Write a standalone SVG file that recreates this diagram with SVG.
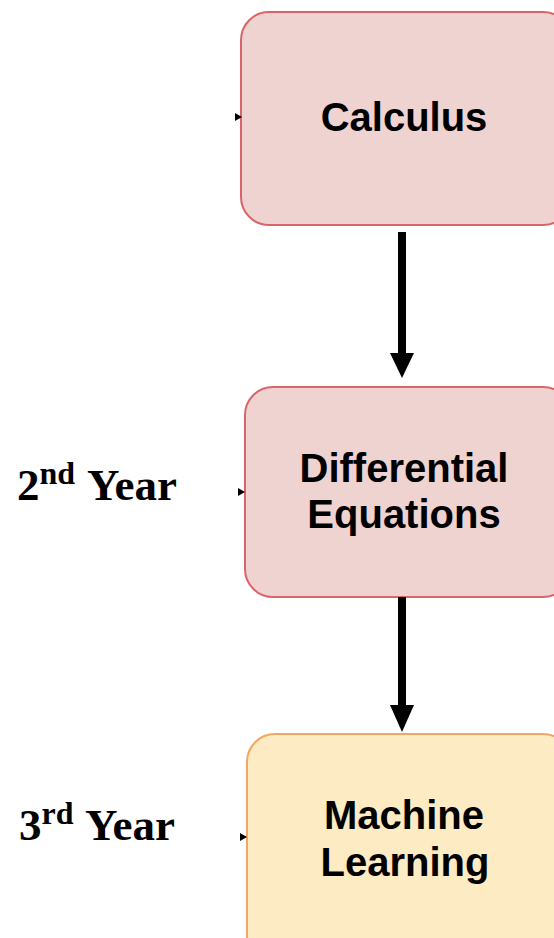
<svg xmlns="http://www.w3.org/2000/svg" width="554" height="938" viewBox="0 0 554 938">
<style>
.red{fill:#efd3d0;stroke:#d9656a;stroke-width:2}
.yel{fill:#fdebc4;stroke:#f2a664;stroke-width:2}
.lbl{font-family:"Liberation Sans",Arial,sans-serif;font-weight:bold;font-size:40px;fill:#000;text-anchor:middle}
.yr{font-family:"Liberation Serif","Times New Roman",serif;font-weight:bold;font-size:45px;fill:#000}
.sup{font-size:32px}
.shaft{stroke:#000;stroke-width:8;fill:none}
</style>
<rect width="554" height="938" fill="#fff"/>
<g id="calculus">
<rect class="red" x="241" y="12" width="330" height="213" rx="28"/>
<text class="lbl" x="404" y="131">Calculus</text>
</g>
<g id="diffeq">
<rect class="red" x="245" y="387" width="326" height="210" rx="28"/>
<text class="lbl" x="404" y="482">Differential</text>
<text class="lbl" x="404" y="528">Equations</text>
</g>
<g id="ml">
<rect class="yel" x="247" y="734" width="324" height="230" rx="28"/>
<text class="lbl" x="404" y="829">Machine</text>
<text class="lbl" x="405" y="876">Learning</text>
</g>
<g id="year2">
<text class="yr" x="17" y="500">2<tspan class="sup" dy="-16">nd</tspan><tspan x="87" dy="16">Year</tspan></text>
</g>
<g id="year3">
<text class="yr" x="19" y="840">3<tspan class="sup" dy="-16">rd</tspan><tspan x="85" dy="16">Year</tspan></text>
</g>
<g id="connectors">
<line class="shaft" x1="402" y1="232" x2="402" y2="356"/>
<polygon points="390,353 414,353 402,378"/>
<line class="shaft" x1="402" y1="597" x2="402" y2="708"/>
<polygon points="390,705 414,705 402,732"/>
<polygon points="235,113 242,117 235,121"/>
<polygon points="238,488 245,492 238,496"/>
<polygon points="240,833 247,837 240,841"/>
</g>
</svg>
